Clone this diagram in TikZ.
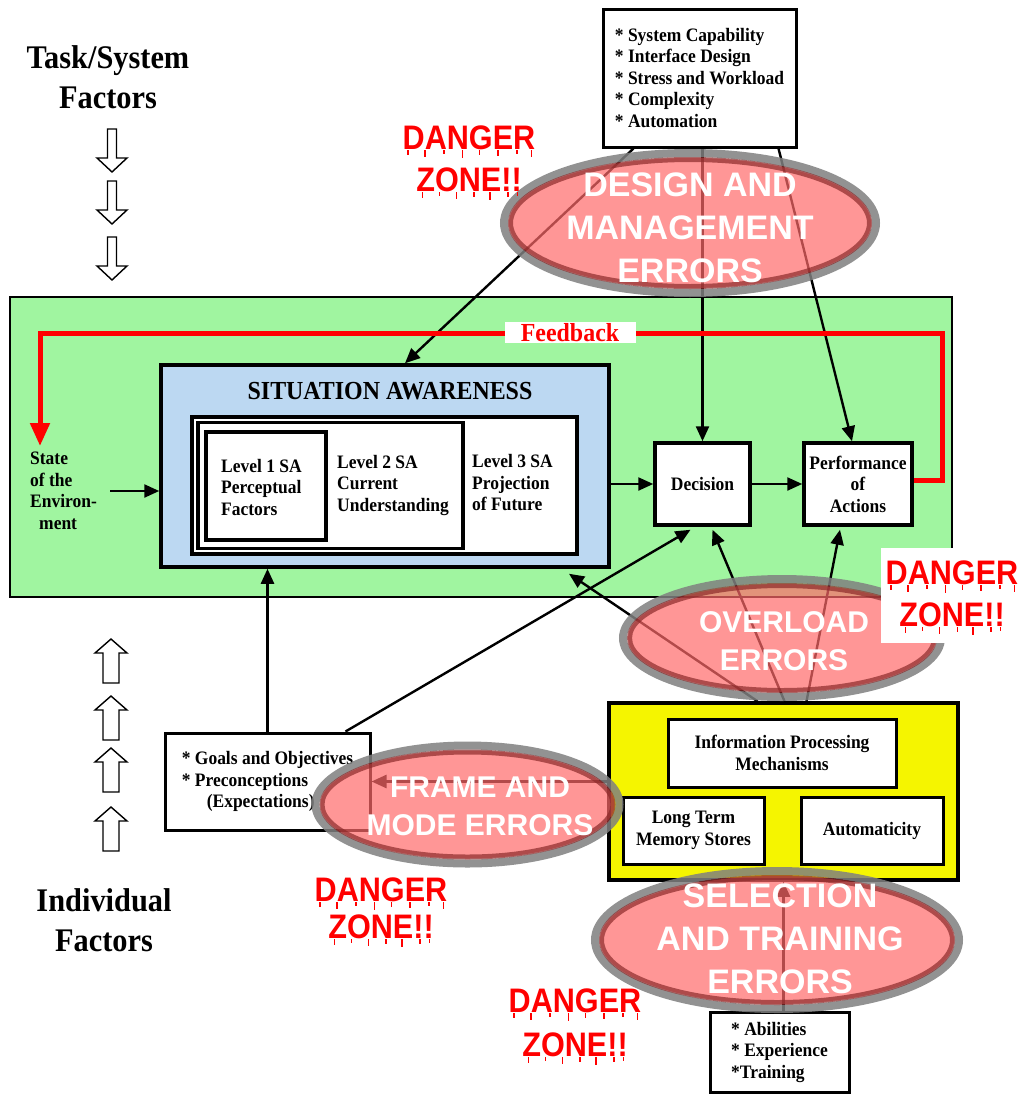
\documentclass[tikz,border=0pt]{standalone}
\usepackage{fontspec}
\setmainfont{Liberation Serif}[FakeStretch=0.92]
\newfontfamily\errfont{Liberation Sans}
\newfontfamily\dangerfont{Liberation Sans}[FakeStretch=0.9]
\usetikzlibrary{arrows.meta,calc}

\definecolor{envgreen}{HTML}{A0F5A0}
\definecolor{sablue}{HTML}{BCD8F2}
\definecolor{procyellow}{HTML}{F5F500}
\definecolor{errpink}{HTML}{FF6A6A}
\definecolor{errring}{HTML}{8C2A2A}
\definecolor{errhalo}{HTML}{808080}
\definecolor{dangerred}{HTML}{FF0000}

\newcommand{\fsz}[2]{\fontsize{#1}{#2}\selectfont}

% translucent error ellipse: centre x, centre y, x radius, y radius
\newcommand{\errellipse}[4]{%
  \fill[errpink, opacity=0.7] (#1,#2) ellipse [x radius=#3-9, y radius=#4-9];
  \draw[errhalo, line width=8pt, opacity=0.85] (#1,#2) ellipse [x radius=#3-4, y radius=#4-4];
  \draw[errring, line width=5pt, opacity=0.7] (#1,#2) ellipse [x radius=#3-10.5, y radius=#4-10.5];
}

% dripping warning label: name, x, y of first line, y of second line
\newcommand{\dangerzone}[4]{%
  \node[danger] (#1a) at (#2,#3) {DANGER};
  \node[danger] (#1b) at (#2,#4) {ZONE!!};
  \foreach \f/\d in {0.04/5,0.17/7,0.31/4,0.45/8,0.58/5,0.72/6,0.86/4,0.97/7}{
    \draw[dangerred, line width=1.6pt] ($(#1a.south west)!\f!(#1a.south east)$) -- ++(0,\d);
  }
  \foreach \f/\d in {0.06/6,0.22/4,0.38/7,0.55/5,0.70/8,0.87/5,0.96/4}{
    \draw[dangerred, line width=1.6pt] ($(#1b.south west)!\f!(#1b.south east)$) -- ++(0,\d);
  }
}

\begin{document}
\begin{tikzpicture}[x=1pt, y=-1pt,
  every node/.style={inner sep=0pt},
  heading/.style={font=\bfseries\fsz{33}{40}, align=center},
  lbl/.style={font=\bfseries\fsz{19}{21.5}, align=left},
  frame/.style={draw, line width=3pt, fill=white},
  conn/.style={line width=2.4pt, -{Triangle[length=15pt,width=13pt]}},
  feedback/.style={draw=dangerred, line width=5pt, line join=miter, -{Triangle[length=23pt,width=19pt]}},
  hollow/.style={draw, line width=1.4pt, fill=white, line join=miter},
  errtext/.style={text=white, align=center, font=\errfont\bfseries},
  danger/.style={text=dangerred, font=\dangerfont\bfseries\fsz{34}{34}}
]
\useasboundingbox (0,0) rectangle (1024,1095);
\fill[white] (0,0) rectangle (1024,1095);

% side headings
\node[heading] (taskhead) at (108,77) {Task/System\\Factors};
\node[heading] (indivhead) at (104,920) {Individual\\Factors};

% hollow arrows pointing down into the environment
\foreach \t in {129,181,237}{
  \draw[hollow] (107.5,\t) -- (116.5,\t) -- (116.5,\t+29) -- (127,\t+29) -- (112,\t+43)
    -- (97,\t+29) -- (107.5,\t+29) -- cycle;
}
% hollow arrows pointing up from the individual
\foreach \t in {639,696,748,807}{
  \draw[hollow] (111,\t) -- (127,\t+14) -- (119,\t+14) -- (119,\t+44) -- (103,\t+44)
    -- (103,\t+14) -- (95,\t+14) -- cycle;
}

% environment
\node[draw, line width=2pt, fill=envgreen, minimum width=942pt, minimum height=300pt] (env) at (481,447) {};

% situation awareness block
\node[draw, line width=3.5pt, fill=sablue, minimum width=448pt, minimum height=202pt] (sa) at (385,466) {};
\node[font=\bfseries\fsz{26}{30}] (satitle) at (390,391) {SITUATION AWARENESS};
\node[frame, line width=3.5pt, minimum width=385pt, minimum height=137pt] (lvl3box) at (384.5,485.5) {};
\node[frame, line width=3.5pt, minimum width=265pt, minimum height=126pt] (lvl2box) at (330.5,485.5) {};
\node[frame, line width=4pt, minimum width=120pt, minimum height=108pt] (lvl1box) at (266,486) {};
\node[lbl, anchor=west] (lvl1) at (221,487) {Level 1 SA\\Perceptual\\Factors};
\node[lbl, anchor=west] (lvl2) at (337,485) {Level 2 SA\\Current\\Understanding};
\node[lbl, anchor=west] (lvl3) at (472,483) {Level 3 SA\\Projection\\of Future};

\node[lbl, anchor=west] (state) at (30,491) {State\\of the\\Environ-\\\hspace*{9pt}ment};

\node[frame, line width=3.5pt, minimum width=95pt, minimum height=82pt, lbl, align=center] (dec) at (702.5,484) {Decision};
\node[frame, line width=3.5pt, minimum width=108pt, minimum height=82pt, lbl, align=center] (perf) at (858,484) {Performance\\of\\Actions};

% task / system factors
\node[frame, minimum width=193pt, minimum height=138pt, lbl] (sysf) at (699.5,78)
  {* System Capability\\* Interface Design\\* Stress and Workload\\* Complexity\\* Automation};

% individual factors
\node[draw, line width=3.5pt, fill=procyellow, minimum width=349pt, minimum height=177pt] (proc) at (783.5,791.5) {};
\node[frame, minimum width=228pt, minimum height=68pt, lbl, align=center] (ipm) at (782,753) {Information Processing\\Mechanisms};
\node[frame, minimum width=141pt, minimum height=67pt, lbl, align=center] (ltm) at (693.5,830.5) {Long Term\\Memory Stores};
\node[frame, minimum width=142pt, minimum height=67pt, lbl, align=center] (auto) at (872,830.5) {Automaticity};

\node[frame, minimum width=205pt, minimum height=97pt, lbl] (goals) at (267.5,781.5)
  {* Goals and Objectives\\* Preconceptions\\\hspace*{25pt}(Expectations)};
\node[frame, minimum width=139pt, minimum height=80pt, lbl] (abil) at (779.5,1052)
  {* Abilities\\* Experience\\*Training};

% connectors
\draw[conn] ([xshift=13pt]state.east) -- (state.east -| sa.west);
\draw[conn] (sa.east |- dec.west) -- (dec.west);
\draw[conn] (dec.east) -- (perf.west);
\draw[conn] ($(sysf.south)+(-66,0)$) -- ($(sa.north)+(20,0)$);
\draw[conn] (sysf.south -| dec.north) -- (dec.north);
\draw[conn] ($(sysf.south)+(79,0)$) -- ($(perf.north)+(-6,0)$);
\draw[conn] ($(proc.north)+(-26,0)$) -- ($(sa.south)+(184,5)$);
\draw[conn] ($(proc.north)+(1,0)$) -- ($(dec.south)+(10,3)$);
\draw[conn] ($(proc.north)+(23,0)$) -- ($(perf.south)+(-18,3)$);
\draw[conn] (goals.north) -- (goals.north |- sa.south);
\draw[conn] ($(goals.north)+(78,0)$) -- ($(dec.south)+(-12,3)$);
\draw[conn] (goals.east -| proc.west) -- (goals.east);
\coordinate (abtop) at ($(abil.north)+(4,0)$);
\draw[conn] (abtop) -- (abtop |- proc.south);

% feedback loop
\coordinate (fbR) at (942,333);
\coordinate (fbL) at (40,333);
\coordinate (fbTip) at (40,446);
\draw[feedback] ([yshift=4pt]perf.east) -| (fbR) -- (fbL) -- (fbTip);
\node[fill=white, text=dangerred, font=\bfseries\fsz{26}{28}, minimum width=131pt, minimum height=21pt] (fblabel) at (570,332.5) {Feedback};

% error ellipses
\errellipse{690}{223}{190}{74}
\errellipse{782}{638}{163}{63}
\errellipse{467.5}{804.5}{156}{63}
\errellipse{777}{940}{186}{73}

\node[errtext, font=\errfont\bfseries\fsz{34}{43}] (designerr) at (690,228) {DESIGN AND\\MANAGEMENT\\ERRORS};
\node[errtext, font=\errfont\bfseries\fsz{30}{38}] (overloaderr) at (784,641) {OVERLOAD\\ERRORS};
\node[errtext, font=\errfont\bfseries\fsz{30}{38}] (frameerr) at (480,806) {FRAME AND\\MODE ERRORS};
\node[errtext, font=\errfont\bfseries\fsz{34}{43}] (selecterr) at (780,939) {SELECTION\\AND TRAINING\\ERRORS};

% warnings
\fill[white] (881,548) rectangle (1024,643);
\dangerzone{dzA}{469}{138}{180}
\dangerzone{dzB}{952}{573}{615}
\dangerzone{dzC}{381}{890}{927}
\dangerzone{dzD}{575}{1001}{1045}

\end{tikzpicture}
\end{document}
